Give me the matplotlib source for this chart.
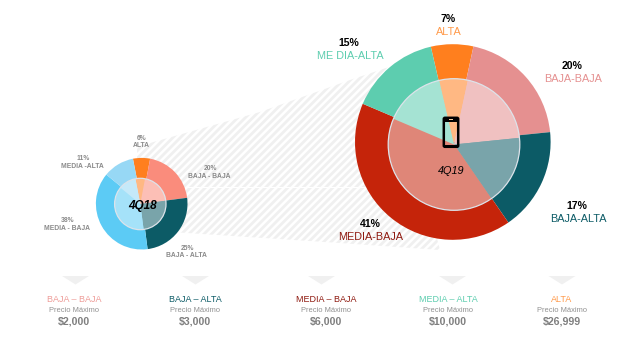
import matplotlib
matplotlib.use("Agg")
import matplotlib.pyplot as plt
import numpy as np
from matplotlib.patches import Circle, FancyBboxPatch, Polygon, Rectangle

plt.rcParams["font.family"] = ["Liberation Sans", "DejaVu Sans"]

W, H = 642, 353

# pie values, clockwise from ALTA
segments = ["ALTA", "BAJA-BAJA", "BAJA-ALTA", "MEDIA-BAJA", "MEDIA-ALTA"]
share_4q18 = [6, 20, 25, 38, 11]
share_4q19 = [7, 20, 17, 41, 15]
colors_4q18 = ["#FF7F1E", "#FA8C7C", "#0C5B66", "#5CCBF5", "#97D8F5"]
colors_4q19 = ["#FF7F1E", "#E59090", "#0C5B66", "#C5240A", "#5DCDAF"]

# bottom price key
tier_names = ["BAJA – BAJA", "BAJA – ALTA", "MEDIA – BAJA", "MEDIA – ALTA", "ALTA"]
tier_prices = ["$2,000", "$3,000", "$6,000", "$10,000", "$26,999"]
tier_colors = ["#EE9C98", "#0C5B66", "#8F1A10", "#5DCDAF", "#FF9A4A"]
tier_x = [74, 195, 326, 448, 562]
tier_tri_x = [75.5, 195.5, 321.5, 452.5, 562]


def Y(py):
    # reference was measured in pixels from the top
    return H - py


fig = plt.figure(figsize=(W / 100, H / 100), dpi=100)
ax = fig.add_axes([0, 0, 1, 1])


def double_pie(values, colors, outer_c, outer_r, inner_c, inner_r, start):
    ax.pie(values, colors=colors, center=(outer_c[0], Y(outer_c[1])), radius=outer_r,
           startangle=start, counterclock=False,
           wedgeprops=dict(edgecolor="none", zorder=2))
    for w in ax.patches[-len(values):]:
        w.set_zorder(2)
    ax.pie(values, colors=colors, center=(inner_c[0], Y(inner_c[1])), radius=inner_r,
           startangle=start, counterclock=False,
           wedgeprops=dict(edgecolor="none", alpha=1.0))
    for w in ax.patches[-len(values):]:
        w.set_zorder(3)
    # white veil makes the inner ring paler
    ax.add_patch(Circle((inner_c[0], Y(inner_c[1])), inner_r, facecolor="white", alpha=0.45,
                        edgecolor="none", zorder=4))
    ax.add_patch(Circle((inner_c[0], Y(inner_c[1])), inner_r, facecolor="none",
                        edgecolor="#DDE3EA", lw=0.9, zorder=5))


double_pie(share_4q18, colors_4q18, (141.7, 203.7), 45.8, (140.3, 204), 25.7, 101)
double_pie(share_4q19, colors_4q19, (452.8, 142), 97.8, (454, 144.5), 65.8, 103)

ax.set_xlim(0, W)
ax.set_ylim(0, H)
ax.set_aspect("auto")
ax.axis("off")

# striped band between both pies, clipped lines so the spacing can be set freely
band_top = [(137, 146), (150, 143), (260, 112), (350, 80), (392, 66)]
band_bot = [(440, 250), (340, 243), (187, 233), (137, 230)]
band = Polygon([(x, Y(y)) for x, y in band_top + band_bot], closed=True,
               facecolor="none", edgecolor="none", zorder=0)
ax.add_patch(band)
for x0 in np.arange(-200, 640, 7.5):
    stripe, = ax.plot([x0, x0 + 400], [0, 400], color="#F0F0F0", lw=2.0, zorder=0,
                      solid_capstyle="butt")
    stripe.set_clip_path(band)
ax.plot([170, 400], [Y(187), Y(187)], color="white", lw=0.8, zorder=0.5)

# phone icon
ax.add_patch(FancyBboxPatch((443.8, Y(146.8)), 14.4, 29, boxstyle="round,pad=0,rounding_size=1.2",
                            facecolor="none", edgecolor="black", lw=1.8, zorder=6))
ax.add_patch(Rectangle((443.8, Y(147.5)), 14.4, 2.6, facecolor="black", edgecolor="none", zorder=6))
ax.add_patch(Rectangle((444.5, Y(121.5)), 13, 3.5, facecolor="black", edgecolor="none", zorder=6))
ax.add_patch(Rectangle((449, Y(120)), 4, 1.4, facecolor="#F5C99A", edgecolor="none", zorder=7))

# centre labels
ax.text(143, Y(206), "4Q18", fontsize=8.5, style="italic", fontweight="bold", ha="center",
        va="center", color="black", zorder=8)
ax.text(451, Y(171), "4Q19", fontsize=7.8, style="italic", ha="center", va="center",
        color="black", zorder=8)

# big pie labels
big_pct = [f"{v}%" for v in share_4q19]
big_names = ["ALTA", "BAJA-BAJA", "BAJA-ALTA", "MEDIA-BAJA", "ME DIA-ALTA"]
big_x = [449, 573, 578, 371, 350]
big_pct_y = [19, 66, 206, 224, 43]
big_colors = ["#FF9A4A", "#E59090", "#0C5B66", "#8F1A10", "#5DCDAF"]
for pct, name, x, y, c in zip(big_pct, big_names, big_x, big_pct_y, big_colors):
    ax.text(x - 1, Y(y), pct, fontsize=7.6, fontweight="bold", ha="center", va="center",
            color="black", zorder=8)
    ax.text(x, Y(y + 13), name, fontsize=7.8, ha="center", va="center", color=c, zorder=8)

# small pie labels
small_pct = [f"{v}%" for v in share_4q18]
small_names = ["ALTA", "BAJA - BAJA", "BAJA - ALTA", "MEDIA - BAJA", "MEDIA -ALTA"]
small_x = [141, 209, 186, 67, 82]
small_pct_y = [138, 169, 248, 221, 159]
for pct, name, x, y in zip(small_pct, small_names, small_x, small_pct_y):
    ax.text(x + 1, Y(y), pct, fontsize=4.9, fontweight="bold", ha="center", va="center",
            color="#8A8A8A", zorder=8)
    ax.text(x, Y(y + 7.5), name, fontsize=4.9, fontweight="bold", ha="center", va="center",
            color="#8A8A8A", zorder=8)

# price key
for name, price, c, x, tx in zip(tier_names, tier_prices, tier_colors, tier_x, tier_tri_x):
    ax.add_patch(Polygon([(tx - 13.5, Y(276)), (tx + 13.5, Y(276)), (tx, Y(284.5))],
                         closed=True, facecolor="#F0F0F0", edgecolor="none"))
    ax.text(x, Y(299), name, fontsize=6.5, ha="center", va="center", color=c)
    ax.text(x, Y(311), "Precio Máximo", fontsize=5.4, ha="center", va="center", color="#909090")
    ax.text(x, Y(321.7), price, fontsize=7.6, fontweight="bold", ha="center", va="center",
            color="#7F7F7F")

fig.savefig("out.png", dpi=100, facecolor="white")
